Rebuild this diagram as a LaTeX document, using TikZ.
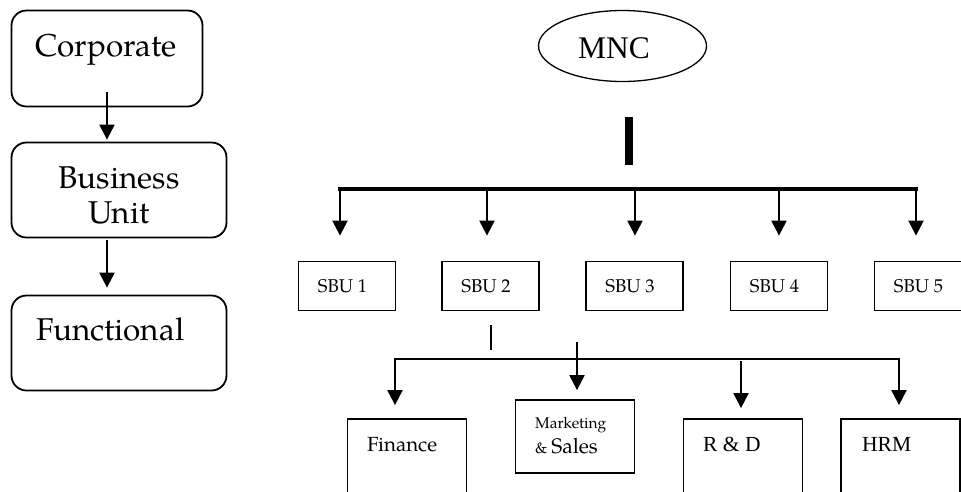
\documentclass[tikz,border=0pt]{standalone}
\usepackage{fontspec}
\setmainfont{Liberation Serif}
\newfontfamily\pal{TeX Gyre Pagella}
\usetikzlibrary{arrows.meta,shapes.geometric,calc}

\begin{document}
\begin{tikzpicture}[x=1pt,y=-1pt,
  levelbox/.style={draw, line width=1.8pt, rounded corners=15pt, inner sep=0pt},
  unitbox/.style={draw, line width=1.8pt, inner sep=0pt, minimum width=97pt, minimum height=49pt},
  deptbox/.style={draw, line width=1.8pt, inner sep=0pt, minimum width=119pt},
  txt/.style={anchor=base west, inner sep=0pt},
  ctxt/.style={anchor=base, inner sep=0pt},
  link/.style={line width=2.2pt, -{Triangle[width=15pt,length=15pt]}},
  twolink/.style={line width=2pt, {Triangle[width=15pt,length=15pt]}-{Triangle[width=15pt,length=15pt]}},
  bigpal/.style={font=\pal\fontsize{31.5}{34}\selectfont},
  sbufont/.style={font=\pal\fontsize{18.5}{22}\selectfont},
]
\useasboundingbox (0,0) rectangle (961,491);
\clip (0,0) rectangle (961,491);

% ---- level chain on the left
\node[levelbox, minimum width=191pt, minimum height=96pt] (corp) at (107,58.5) {};
\node[levelbox, minimum width=215pt, minimum height=95pt] (bu) at (119,190) {};
\node[levelbox, minimum width=215pt, minimum height=95pt] (fun) at (119,343) {};

\node[txt, bigpal] (t-corp) at (35,56) {Corporate};
\node[ctxt, bigpal] (t-bu1) at (119,188) {Business};
\node[ctxt, bigpal] (t-bu2) at (119,223) {Unit};
\node[txt, bigpal] (t-fun) at (36,340) {Functional};

\draw[link] ($(corp.south)+(0,-15)$) -- ($(corp.south |- bu.north)+(0,-2)$);
\draw[link] ($(corp.south |- bu.south)+(0,2)$) -- ($(corp.south |- fun.north)+(0,-7)$);

% ---- MNC and its business units
\node[draw, ellipse, line width=1.3pt, inner sep=0pt, minimum width=168pt, minimum height=71pt] (mnc) at (622.5,46) {};
\node[ctxt, font=\fontsize{31.5}{34}\selectfont] (t-mnc) at (614,58) {MNC};

\coordinate (bartop) at ($(mnc.south)+(6.5,35)$);
\coordinate (barbot) at ($(mnc.south)+(6.5,83)$);
\draw[line width=8pt] (bartop) -- (barbot);

\node[unitbox] (sbu1) at (347,286) {};
\node[unitbox] (sbu2) at (490.5,286) {};
\node[unitbox] (sbu3) at (634.5,286) {};
\node[unitbox] (sbu4) at (779,286) {};
\node[unitbox] (sbu5) at (923,286) {};
\foreach \i in {1,...,5}
  \node[txt, sbufont] (t-sbu\i) at ($(sbu\i.west)+(20,6)$) {SBU \i};

\coordinate (b1) at (340,189);
\coordinate (b2) at (487,189);
\coordinate (b3) at (635,189);
\coordinate (b4) at (779,189);
\coordinate (b5) at (916,189);
\draw[line width=3.5pt, line cap=rect] (b1) -- (b5);
\foreach \i in {1,...,5}
  \draw[link] (b\i) -- ($(b\i |- sbu\i.north)+(0,-25)$);

% ---- functions below SBU 2
\draw[line width=1.6pt] ($(sbu2.south)+(0.5,14)$) -- ($(sbu2.south)+(0.5,39)$);

\node[deptbox, minimum height=121pt] (fin) at (407,479.5) {};
\node[deptbox, minimum height=73pt] (mkt) at (575,436.5) {};
\node[deptbox, minimum height=121pt] (rd) at (743,479.5) {};
\node[deptbox, minimum height=121pt] (hrm) at (900.5,479.5) {};

\node[txt, font=\pal\fontsize{20.5}{24}\selectfont] (t-fin) at (367,451) {Finance};
\node[txt, font=\pal\fontsize{15.5}{18}\selectfont] (t-mkt1) at (535,428) {Marketing};
\node[txt, font=\pal\fontsize{21}{24}\selectfont] (t-mkt2) at (535,453) {{\fontsize{15.5}{18}\selectfont\&}\kern4pt Sales};
\node[txt, font=\fontsize{21.5}{24}\selectfont] (t-rd) at (703,451) {R \& D};
\node[txt, font=\fontsize{21.5}{24}\selectfont] (t-hrm) at (862,451) {HRM};

\coordinate (h1) at (395,359);
\coordinate (h2) at (899,359);
\draw[twolink] ($(h1 |- fin.north)+(0,-13)$) -- (h1) -- (h2) -- ($(h2 |- hrm.north)+(0,-13)$);
\draw[link] ($(mkt.north)+(2,-57)$) -- ($(mkt.north)+(2,-9)$);
\draw[link] ($(rd.north)+(-2,-57)$) -- ($(rd.north)+(-2,-10)$);
\end{tikzpicture}
\end{document}
